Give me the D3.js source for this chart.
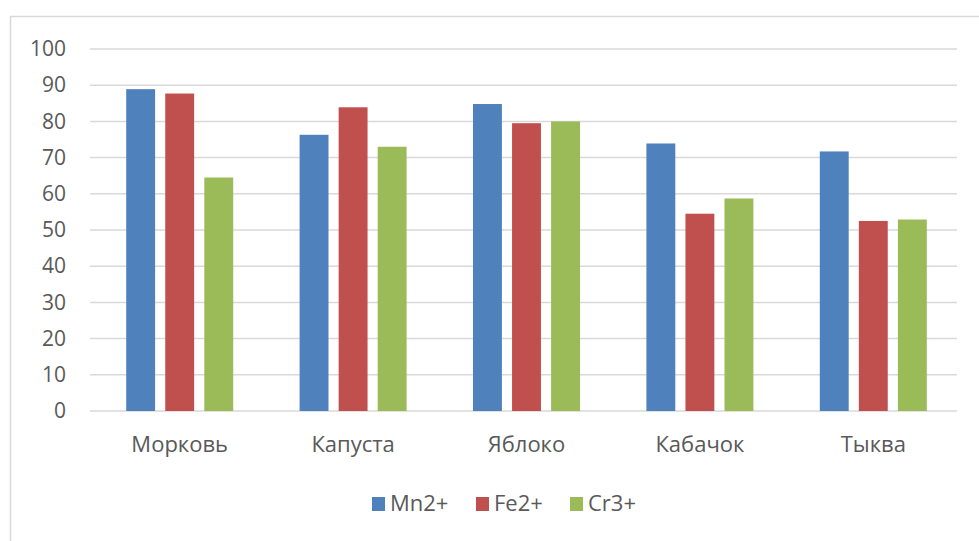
<!DOCTYPE html>
<html>
<head>
<meta charset="utf-8">
<script src="https://cdn.jsdelivr.net/npm/d3@7"></script>
<style>
  html, body { margin: 0; padding: 0; background: #fff; }
  svg { display: block; }
  text { font-family: "Open Sans", "Noto Sans", sans-serif; fill: #595959; }
</style>
</head>
<body>
<svg id="chart" width="979" height="541"></svg>
<script>
const categories = ["Морковь", "Капуста", "Яблоко", "Кабачок", "Тыква"];
const seriesNames = ["Mn2+", "Fe2+", "Cr3+"];
const mn = [88.9, 76.3, 84.8, 73.9, 71.7];
const fe = [87.7, 83.9, 79.5, 54.5, 52.5];
const cr = [64.5, 73.0, 80.0, 58.7, 52.9];
const yTicks = [0, 10, 20, 30, 40, 50, 60, 70, 80, 90, 100];
const colors = ["#4F81BD", "#C0504D", "#9BBB59"];

const seriesValues = [mn, fe, cr];
const svg = d3.select("#chart");

// outer chart frame
svg.append("rect")
  .attr("x", 10.5).attr("y", 16.5)
  .attr("width", 1000).attr("height", 600)
  .attr("fill", "none").attr("stroke", "#d9d9d9").attr("stroke-width", 1.5);

const y = d3.scaleLinear().domain([0, 100]).range([411, 49]);
const x0 = d3.scaleBand().domain(categories).range([93, 960]);
const groupW = 107;
const x1 = d3.scaleBand().domain(seriesNames).range([0, groupW]).paddingInner(0.26);

// gridlines
svg.append("g")
  .selectAll("line").data(yTicks).join("line")
  .attr("x1", 90).attr("x2", 957)
  .attr("y1", d => y(d)).attr("y2", d => y(d))
  .attr("stroke", "#d9d9d9").attr("stroke-width", 1.5);

// y axis labels
const yAxis = svg.append("g")
  .attr("transform", "translate(66,0)")
  .call(d3.axisLeft(y).tickValues(yTicks).tickSize(0).tickPadding(0));
yAxis.select(".domain").remove();
yAxis.selectAll("text")
  .style("font-size", "21px")
  .attr("fill", "#595959");

// bars
const groups = svg.append("g").selectAll("g").data(categories).join("g")
  .attr("transform", c => `translate(${x0(c) + (x0.bandwidth() - groupW) / 2},0)`);

groups.selectAll("rect")
  .data((c, i) => seriesNames.map((s, j) => ({ s, j, v: seriesValues[j][i] })))
  .join("rect")
  .attr("x", d => x1(d.s))
  .attr("width", x1.bandwidth())
  .attr("y", d => y(d.v))
  .attr("height", d => y(0) - y(d.v))
  .attr("fill", d => colors[d.j]);

// category labels
const xAxis = svg.append("g")
  .attr("transform", `translate(0,${y(0)})`)
  .call(d3.axisBottom(x0).tickSize(0).tickPadding(25));
xAxis.select(".domain").remove();
xAxis.selectAll("text")
  .style("font-size", "22px")
  .attr("fill", "#595959");

// legend
const legendX = [372, 476, 570];
const legend = svg.append("g").selectAll("g").data(seriesNames).join("g")
  .attr("transform", (d, i) => `translate(${legendX[i]},511)`);
legend.append("rect")
  .attr("x", 0).attr("y", -14).attr("width", 13).attr("height", 14)
  .attr("fill", (d, i) => colors[i]);
legend.append("text")
  .attr("x", 18).attr("y", 0)
  .style("font-size", "22px")
  .text(d => d);
</script>
</body>
</html>
